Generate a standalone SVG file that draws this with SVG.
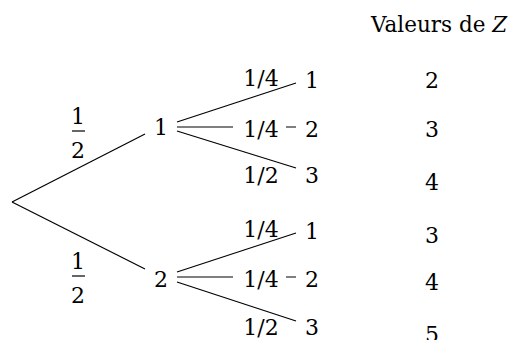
<svg xmlns="http://www.w3.org/2000/svg" width="510" height="340" viewBox="0 0 510 340">
<style>
text{font-family:"DejaVu Serif","Liberation Serif",serif;font-size:22px;fill:#000}
.c line{stroke:#000;stroke-width:1.2}
.m{text-anchor:middle}
.bg{fill:#fff}
</style>
<rect width="510" height="340" fill="#fff"/>
<g class="c" id="connectors">
<line x1="12" y1="202" x2="145" y2="134"/>
<line x1="12" y1="202" x2="145" y2="269"/>
<line x1="177" y1="122" x2="296" y2="83"/>
<line x1="177" y1="127" x2="296" y2="127"/>
<line x1="177" y1="131" x2="296" y2="168"/>
<line x1="177" y1="272" x2="296" y2="233"/>
<line x1="177" y1="277" x2="296" y2="277"/>
<line x1="177" y1="282" x2="296" y2="321"/>
<line x1="72" y1="131" x2="85" y2="131"/>
<line x1="72" y1="276" x2="85" y2="276"/>
</g>
<g id="title"><text x="371" y="32" style="font-size:21.5px">Valeurs de <tspan font-style="italic">Z</tspan></text></g>
<g id="p1"><text class="m" x="78" y="124">1</text><text class="m" x="78" y="158">2</text></g>
<g id="p2"><text class="m" x="78" y="269">1</text><text class="m" x="78" y="303">2</text></g>
<g id="n1"><text class="m" x="161" y="135">1</text></g>
<g id="n2"><text class="m" x="161" y="287">2</text></g>
<g id="l11"><text class="m" x="261" y="86">1/4</text></g>
<g id="l12"><rect class="bg" x="233" y="114" width="53" height="26"/><text class="m" x="261" y="137">1/4</text></g>
<g id="l13"><text class="m" x="261" y="183">1/2</text></g>
<g id="l21"><text class="m" x="261" y="237">1/4</text></g>
<g id="l22"><rect class="bg" x="233" y="264" width="53" height="26"/><text class="m" x="261" y="287">1/4</text></g>
<g id="l23"><text class="m" x="261" y="335">1/2</text></g>
<g id="f11"><text class="m" x="312" y="88">1</text></g>
<g id="f12"><text class="m" x="312" y="137">2</text></g>
<g id="f13"><text class="m" x="312" y="183">3</text></g>
<g id="f21"><text class="m" x="312" y="239">1</text></g>
<g id="f22"><text class="m" x="312" y="287">2</text></g>
<g id="f23"><text class="m" x="312" y="335">3</text></g>
<g id="z"><text class="m" x="432" y="88">2</text><text class="m" x="432" y="137">3</text><text class="m" x="432" y="190">4</text><text class="m" x="432" y="243">3</text><text class="m" x="432" y="290">4</text><text class="m" x="432" y="342">5</text></g>
</svg>
